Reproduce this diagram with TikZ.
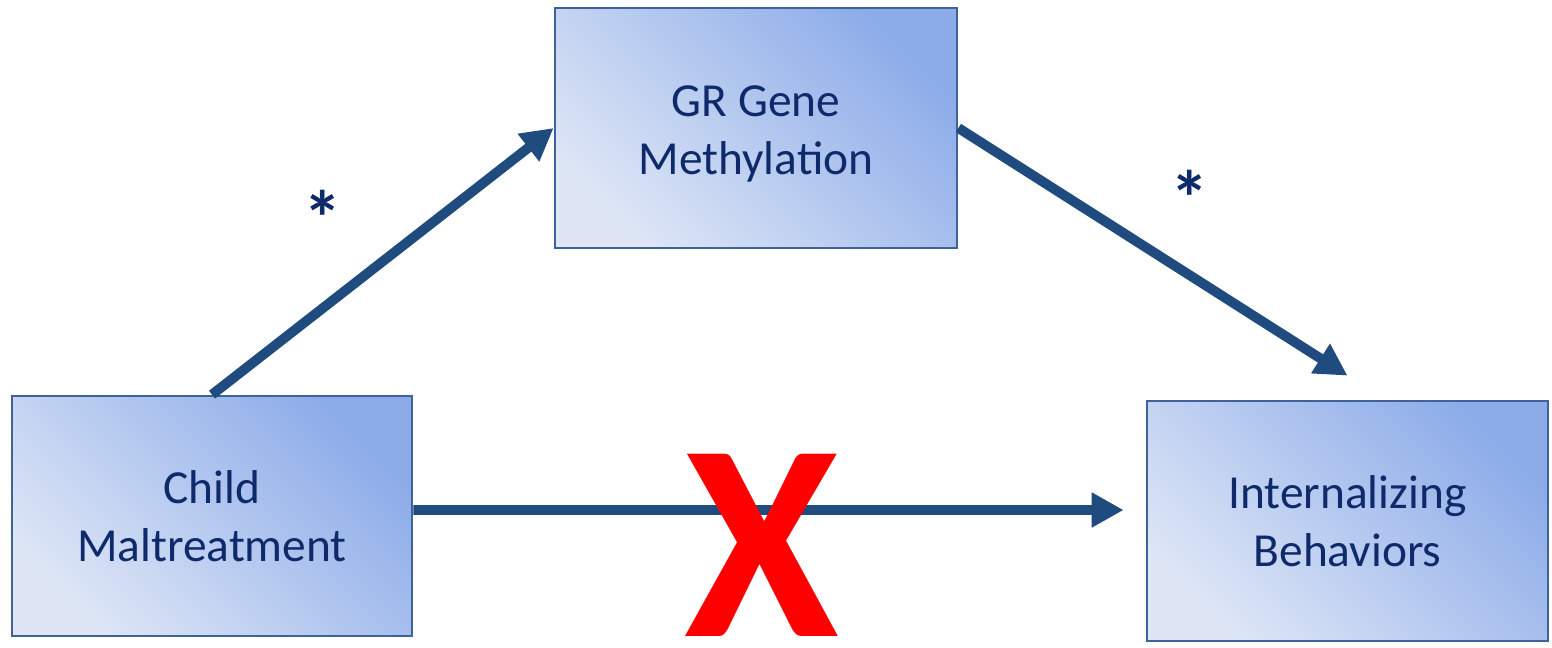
\documentclass[tikz,border=0pt]{standalone}
\usepackage{fontspec}
\setmainfont{Carlito}
\usetikzlibrary{arrows.meta,calc}
\definecolor{boxdark}{HTML}{8CACE9}
\definecolor{boxlight}{HTML}{DEE6F6}
\definecolor{boxborder}{HTML}{3F6399}
\definecolor{arrowblue}{HTML}{1F4B7E}
\definecolor{textnavy}{HTML}{0F2A6B}
\tikzset{
  varbox/.style={draw=boxborder, line width=1.6pt, minimum width=8cm, minimum height=4.8cm,
    shading=axis, top color=boxdark, bottom color=boxlight, shading angle=-45,
    text=textnavy, font=\fontsize{27}{33}\selectfont, align=center, inner sep=0pt},
  boxtext/.style={text=textnavy, font=\fontsize{27}{33}\selectfont, align=center, inner sep=0pt},
  path/.style={draw=arrowblue, line width=5.6pt, -{Triangle[length=0.64cm,width=0.66cm]}},
  star/.style={text=textnavy, font=\fontsize{44}{44}\selectfont\bfseries},
}
\begin{document}
\begin{tikzpicture}[x=0.02cm,y=-0.02cm]
\useasboundingbox (0,0) rectangle (1552,647);
\node[varbox, minimum width=8.04cm] (gr) at (756,128) {};
\node[boxtext] (grt) at ([yshift=-0.12cm]gr.center) {GR Gene\\Methylation};
\node[varbox] (cm) at (212,516) {Child\\Maltreatment};
\node[varbox, minimum width=8.02cm] (ib) at (1347.5,521) {Internalizing\\Behaviors};
\draw[path] (cm.north) -- (gr.west);
\draw[path] (gr.east) -- ([yshift=0.48cm]ib.north);
\draw[path] ([yshift=0.12cm]cm.east) -- ([xshift=-0.44cm,yshift=0.22cm]ib.west);
\node[star] (s1) at (323,218) {*};
\node[star] (s2) at (1190,198) {*};
\node[text=red, font=\fontsize{160}{160}\selectfont\bfseries, inner sep=0pt] (x) at (762,545) {X};
\end{tikzpicture}
\end{document}
